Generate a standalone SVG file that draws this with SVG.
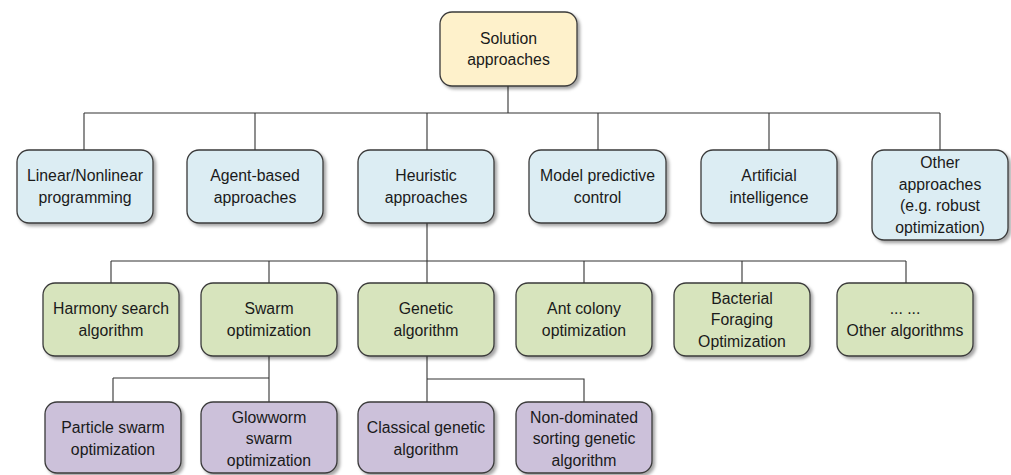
<svg xmlns="http://www.w3.org/2000/svg" width="1011" height="475" viewBox="0 0 1011 475">
<style>
.n{stroke:#3a3a3a;stroke-width:1.3;filter:url(#sh)}
.y{fill:#FEF1CB}.b{fill:#DCEDF3}.g{fill:#D7E4BD}.p{fill:#CCC1DA}
text{font-family:"Liberation Sans",Arial,sans-serif;font-size:15.8px;fill:#1a1a1a;text-anchor:middle}
.c{stroke:#333;stroke-width:1.1;fill:none}
</style>
<defs>
<filter id="sh" x="-10%" y="-10%" width="125%" height="130%">
<feDropShadow dx="2.5" dy="2.5" stdDeviation="1.5" flood-color="#000" flood-opacity="0.35"/>
</filter>
</defs>
<g id="connectors">
<path class="c" d="M508 86V113M84 113H940M84 113V150M255 113V150M427 113V150M598 113V150M769 113V150M940 113V150"/>
<path class="c" d="M427 223V283M111 261H906M111 261V283M269 261V283M584 261V283M742 261V283M906 261V283"/>
<path class="c" d="M269 356V402M113 378H269M113 378V402"/>
<path class="c" d="M427 356V402M427 379H584V402"/>
</g>
<g id="solution"><rect class="n y" x="440" y="12" width="137" height="74" rx="12"/><text x="508.5" y="43.75">Solution</text><text x="508.5" y="65.25">approaches</text></g>
<g id="linear"><rect class="n b" x="17" y="150" width="136" height="73" rx="12"/><text x="85" y="181.25">Linear/Nonlinear</text><text x="85" y="202.75">programming</text></g>
<g id="agent"><rect class="n b" x="187" y="150" width="136" height="73" rx="12"/><text x="255" y="181.25">Agent-based</text><text x="255" y="202.75">approaches</text></g>
<g id="heuristic"><rect class="n b" x="358" y="150" width="136" height="73" rx="12"/><text x="426" y="181.25">Heuristic</text><text x="426" y="202.75">approaches</text></g>
<g id="mpc"><rect class="n b" x="529" y="150" width="137" height="73" rx="12"/><text x="597.5" y="181.25">Model predictive</text><text x="597.5" y="202.75">control</text></g>
<g id="ai"><rect class="n b" x="701" y="150" width="136" height="73" rx="12"/><text x="769" y="181.25">Artificial</text><text x="769" y="202.75">intelligence</text></g>
<g id="other"><rect class="n b" x="872" y="150" width="136" height="90" rx="12"/><text x="940" y="168.25">Other</text><text x="940" y="189.75">approaches</text><text x="940" y="211.25">(e.g. robust</text><text x="940" y="232.75">optimization)</text></g>
<g id="harmony"><rect class="n g" x="43" y="283" width="136" height="73" rx="12"/><text x="111" y="314.25">Harmony search</text><text x="111" y="335.75">algorithm</text></g>
<g id="swarm"><rect class="n g" x="201" y="283" width="136" height="73" rx="12"/><text x="269" y="314.25">Swarm</text><text x="269" y="335.75">optimization</text></g>
<g id="genetic"><rect class="n g" x="358" y="283" width="136" height="73" rx="12"/><text x="426" y="314.25">Genetic</text><text x="426" y="335.75">algorithm</text></g>
<g id="ant"><rect class="n g" x="516" y="283" width="136" height="73" rx="12"/><text x="584" y="314.25">Ant colony</text><text x="584" y="335.75">optimization</text></g>
<g id="bacterial"><rect class="n g" x="674" y="283" width="136" height="73" rx="12"/><text x="742" y="303.5">Bacterial</text><text x="742" y="325">Foraging</text><text x="742" y="346.5">Optimization</text></g>
<g id="otheralg"><rect class="n g" x="837" y="283" width="136" height="73" rx="12"/><text x="905" y="314.25">... ...</text><text x="905" y="335.75">Other algorithms</text></g>
<g id="pso"><rect class="n p" x="45" y="402" width="136" height="71" rx="12"/><text x="113" y="433.25">Particle swarm</text><text x="113" y="454.75">optimization</text></g>
<g id="gso"><rect class="n p" x="201" y="402" width="136" height="71" rx="12"/><text x="269" y="422.5">Glowworm</text><text x="269" y="444">swarm</text><text x="269" y="465.5">optimization</text></g>
<g id="cga"><rect class="n p" x="358" y="402" width="136" height="71" rx="12"/><text x="426" y="433.25">Classical genetic</text><text x="426" y="454.75">algorithm</text></g>
<g id="nsga"><rect class="n p" x="516" y="402" width="136" height="71" rx="12"/><text x="584" y="422.5">Non-dominated</text><text x="584" y="444">sorting genetic</text><text x="584" y="465.5">algorithm</text></g>
</svg>
